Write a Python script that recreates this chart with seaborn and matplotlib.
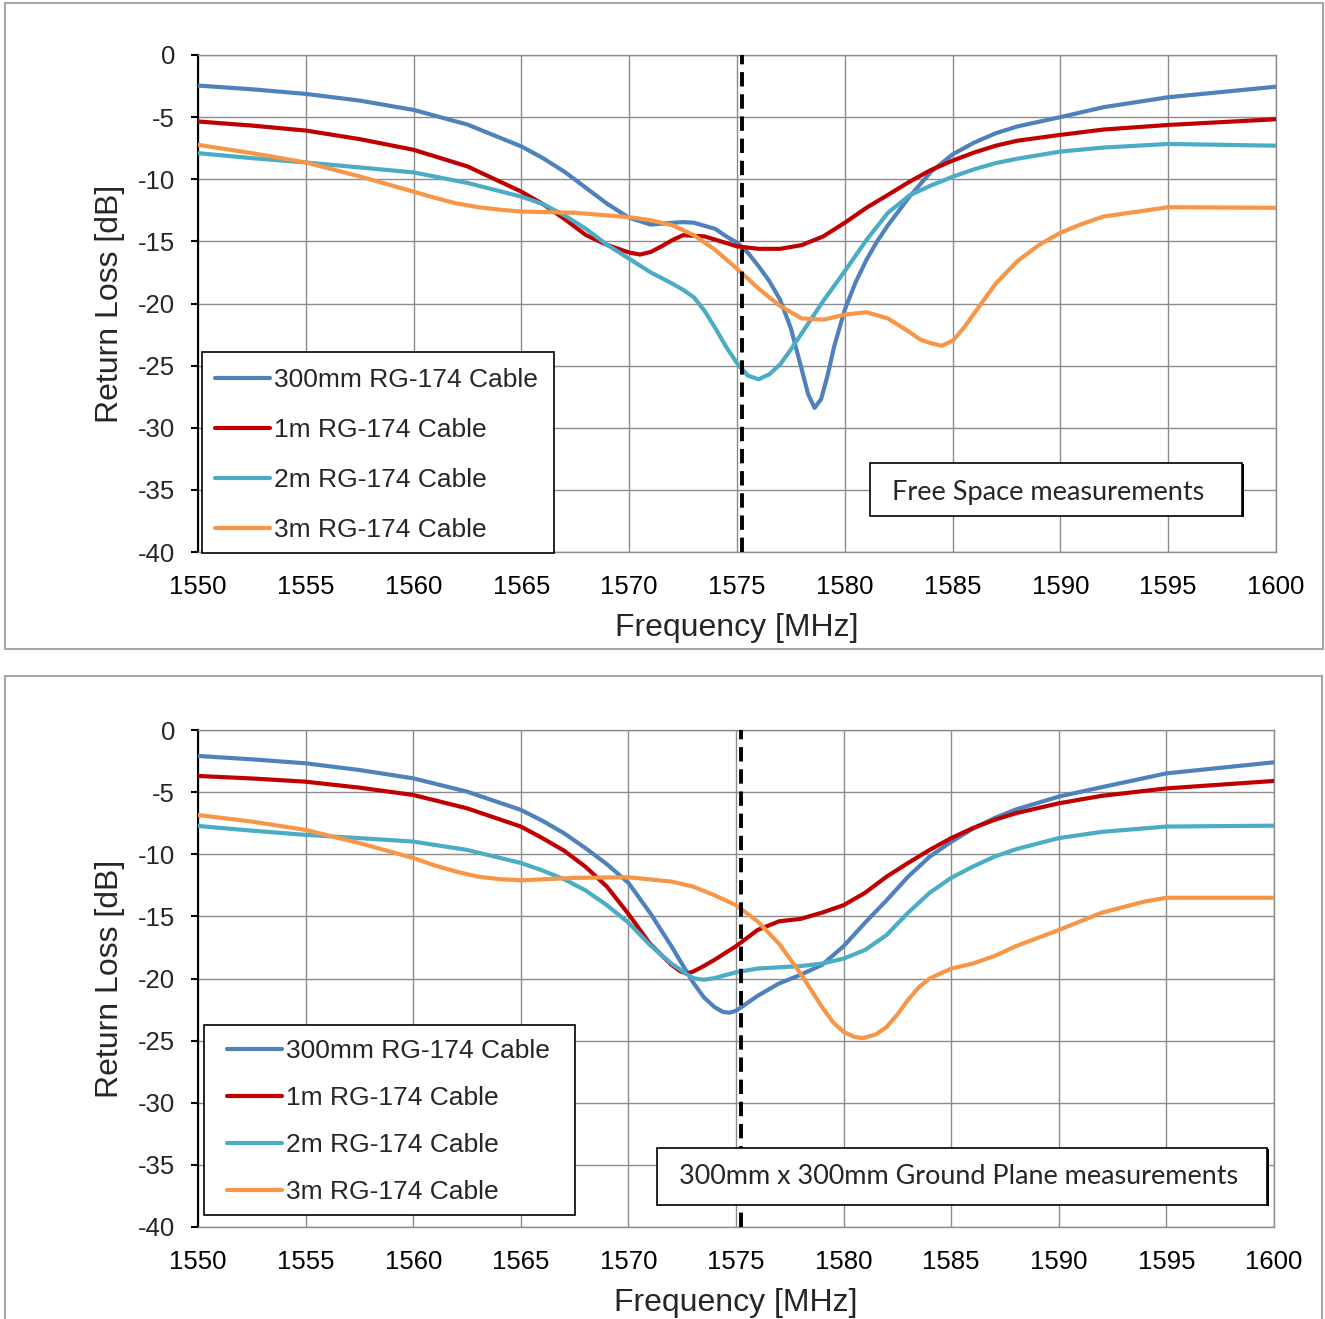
import numpy as np
import pandas as pd
import matplotlib
matplotlib.use("Agg")
import matplotlib.pyplot as plt
from matplotlib.patches import Rectangle
import seaborn as sns

# ---------------------------------------------------------------- data
cables = ["300mm RG-174 Cable", "1m RG-174 Cable", "2m RG-174 Cable", "3m RG-174 Cable"]
colors = ["#4F81BD", "#C00000", "#4BACC6", "#F79646"]

# Free space measurements
fs_300mm_f = [1550, 1552.5, 1555, 1557.5, 1560, 1562.5, 1565, 1566, 1567, 1568, 1569, 1570, 1571,
              1572, 1572.5, 1573, 1574, 1574.5, 1575, 1575.5, 1576, 1576.5, 1577, 1577.5, 1578,
              1578.3, 1578.6, 1578.9, 1579.2, 1579.5, 1580, 1580.5, 1581, 1581.5, 1582, 1583,
              1584, 1585, 1586, 1587, 1588, 1590, 1592, 1595, 1600]
fs_300mm_rl = [-2.46, -2.76, -3.13, -3.67, -4.42, -5.6, -7.36, -8.3, -9.4, -10.7, -12.0, -13.1, -13.65,
               -13.5, -13.45, -13.5, -14.0, -14.6, -15.1, -15.9, -17.0, -18.2, -19.7, -22.0, -25.3,
               -27.3, -28.4, -27.7, -25.8, -23.5, -20.5, -18.3, -16.5, -15.0, -13.7, -11.4,
               -9.4, -8.0, -7.05, -6.3, -5.75, -5.0, -4.2, -3.4, -2.55]

fs_1m_f = [1550, 1552.5, 1555, 1557.5, 1560, 1562.5, 1565, 1566, 1567, 1568, 1569, 1570, 1570.5,
           1571, 1571.5, 1572, 1572.5, 1573.5, 1575, 1576, 1577, 1578, 1579, 1580, 1581, 1582,
           1583, 1584, 1585, 1586, 1587, 1588, 1590, 1592, 1595, 1600]
fs_1m_rl = [-5.35, -5.68, -6.08, -6.77, -7.63, -8.97, -11.0, -12.0, -13.2, -14.5, -15.3, -15.9, -16.06,
            -15.85, -15.4, -14.9, -14.5, -14.6, -15.4, -15.6, -15.6, -15.3, -14.6, -13.5, -12.3, -11.26,
            -10.2, -9.25, -8.5, -7.85, -7.3, -6.9, -6.43, -6.0, -5.63, -5.17]

fs_2m_f = [1550, 1552.5, 1555, 1557.5, 1560, 1562.5, 1565, 1566, 1567, 1568, 1569, 1570, 1571,
           1572, 1572.5, 1573, 1573.5, 1574, 1574.5, 1575, 1575.5, 1576, 1576.5, 1577, 1577.5,
           1578, 1579, 1580, 1581, 1582, 1583, 1584, 1585, 1586, 1587, 1588, 1590, 1592, 1595, 1600]
fs_2m_rl = [-7.9, -8.3, -8.65, -9.05, -9.45, -10.3, -11.4, -12.0, -12.9, -14.0, -15.3, -16.4, -17.5,
            -18.4, -18.9, -19.5, -20.6, -22.0, -23.5, -24.8, -25.8, -26.1, -25.7, -24.9, -23.7,
            -22.4, -19.8, -17.4, -14.9, -12.7, -11.3, -10.5, -9.8, -9.2, -8.7, -8.35, -7.77, -7.45,
            -7.16, -7.3]

fs_3m_f = [1550, 1552.5, 1555, 1557.5, 1560, 1561, 1562, 1563, 1564, 1565, 1567.5, 1570, 1571,
           1572, 1573, 1574, 1575, 1576, 1577, 1578, 1579, 1580, 1581, 1582, 1583, 1583.5, 1584,
           1584.5, 1585, 1585.5, 1586, 1586.5, 1587, 1588, 1589, 1590, 1591, 1592, 1595, 1600]
fs_3m_rl = [-7.23, -7.9, -8.65, -9.77, -11.0, -11.5, -11.95, -12.25, -12.45, -12.6, -12.7, -13.05, -13.3,
            -13.7, -14.5, -15.7, -17.2, -18.8, -20.2, -21.2, -21.3, -20.9, -20.7, -21.2, -22.3, -22.9,
            -23.2, -23.4, -23.0, -22.0, -20.8, -19.6, -18.4, -16.6, -15.3, -14.3, -13.6, -13.0, -12.25,
            -12.3]

# Ground plane measurements
gp_300mm_f = [1550, 1552.5, 1555, 1557.5, 1560, 1562.5, 1565, 1566, 1567, 1568, 1569, 1570, 1571,
              1572, 1573, 1573.5, 1574, 1574.4, 1574.7, 1575, 1575.5, 1576, 1577, 1578, 1579,
              1580, 1581, 1582, 1583, 1584, 1585, 1586, 1587, 1588, 1590, 1592, 1595, 1600]
gp_300mm_rl = [-2.09, -2.36, -2.68, -3.22, -3.89, -4.96, -6.43, -7.3, -8.3, -9.5, -10.8, -12.3, -14.7,
               -17.4, -20.3, -21.5, -22.3, -22.7, -22.75, -22.6, -22.0, -21.4, -20.4, -19.7, -18.9,
               -17.4, -15.5, -13.7, -11.8, -10.2, -9.0, -7.95, -7.1, -6.4, -5.36, -4.6, -3.49, -2.6]

gp_1m_f = [1550, 1552.5, 1555, 1557.5, 1560, 1562.5, 1565, 1566, 1567, 1568, 1569, 1570, 1571,
           1572, 1572.4, 1572.7, 1573, 1573.5, 1574, 1575, 1576, 1577, 1578, 1579, 1580, 1581,
           1582, 1583, 1584, 1585, 1586, 1587, 1588, 1590, 1592, 1595, 1600]
gp_1m_rl = [-3.7, -3.9, -4.16, -4.64, -5.23, -6.3, -7.77, -8.7, -9.7, -11.0, -12.6, -14.8, -17.2,
            -18.9, -19.4, -19.6, -19.45, -19.0, -18.5, -17.4, -16.1, -15.4, -15.2, -14.7, -14.1, -13.1,
            -11.8, -10.7, -9.65, -8.7, -7.9, -7.24, -6.7, -5.9, -5.3, -4.7, -4.1]

gp_2m_f = [1550, 1552.5, 1555, 1557.5, 1560, 1562.5, 1565, 1566, 1567, 1568, 1569, 1570, 1571,
           1572, 1573, 1573.5, 1574, 1575, 1576, 1577, 1578, 1579, 1580, 1581, 1582, 1583, 1584,
           1585, 1586, 1587, 1588, 1590, 1592, 1595, 1600]
gp_2m_rl = [-7.72, -8.1, -8.44, -8.7, -8.98, -9.65, -10.7, -11.3, -12.0, -12.9, -14.1, -15.5, -17.3,
            -18.8, -19.97, -20.1, -19.97, -19.5, -19.2, -19.1, -19.0, -18.8, -18.4, -17.7, -16.5, -14.7,
            -13.1, -11.9, -11.0, -10.2, -9.6, -8.7, -8.2, -7.77, -7.7]

gp_3m_f = [1550, 1552.5, 1555, 1557.5, 1560, 1561, 1562, 1563, 1564, 1565, 1567.5, 1570, 1572,
           1573, 1574, 1575, 1576, 1577, 1578, 1579, 1579.5, 1580, 1580.5, 1580.9, 1581.5, 1582,
           1582.5, 1583, 1583.5, 1584, 1585, 1586, 1587, 1588, 1590, 1592, 1594, 1595, 1597, 1600]
gp_3m_rl = [-6.84, -7.37, -8.04, -9.1, -10.3, -10.9, -11.4, -11.8, -12.0, -12.1, -11.9, -11.85, -12.2,
            -12.6, -13.3, -14.1, -15.4, -17.2, -19.6, -22.3, -23.5, -24.3, -24.7, -24.8, -24.5, -23.9,
            -22.9, -21.7, -20.7, -20.0, -19.2, -18.8, -18.2, -17.4, -16.1, -14.7, -13.8, -13.5, -13.5,
            -13.5]

gps_l1_marker = 1575.25
x_ticks = [1550, 1555, 1560, 1565, 1570, 1575, 1580, 1585, 1590, 1595, 1600]
y_ticks = [0, -5, -10, -15, -20, -25, -30, -35, -40]
panel_notes = ["Free Space measurements", "300mm x 300mm Ground Plane measurements"]


def long_frame(series):
    rows = []
    for name, f, rl in series:
        rows += [{"freq": a, "rl": b, "cable": name} for a, b in zip(f, rl)]
    return pd.DataFrame(rows)


free_space = long_frame([(cables[0], fs_300mm_f, fs_300mm_rl), (cables[1], fs_1m_f, fs_1m_rl),
                         (cables[2], fs_2m_f, fs_2m_rl), (cables[3], fs_3m_f, fs_3m_rl)])
ground_plane = long_frame([(cables[0], gp_300mm_f, gp_300mm_rl), (cables[1], gp_1m_f, gp_1m_rl),
                           (cables[2], gp_2m_f, gp_2m_rl), (cables[3], gp_3m_f, gp_3m_rl)])

# ---------------------------------------------------------------- style
sns.set_style("white")
plt.rcParams["font.family"] = ["Liberation Sans", "DejaVu Sans"]
plt.rcParams["lines.solid_capstyle"] = "round"
plt.rcParams["lines.solid_joinstyle"] = "round"

W, H = 1325, 1319
fig = plt.figure(figsize=(W / 100, H / 100), dpi=100)
fig.patch.set_facecolor("white")

GRID = "#8c8c8c"


def px_box(x0, y0, x1, y1):
    """Figure-fraction rectangle from pixel corners (top-left origin)."""
    return [x0 / W, 1 - y1 / H, (x1 - x0) / W, (y1 - y0) / H]


# panel frames
for (x0, y0, x1, y1) in [(5, 3, 1323, 649), (5, 676, 1322, 1330)]:
    b = px_box(x0, y0, x1, y1)
    fig.add_artist(Rectangle((b[0], b[1]), b[2], b[3], transform=fig.transFigure,
                             fill=False, ec="#a6a6a6", lw=1.5, zorder=0))

ax_top = fig.add_axes(px_box(198, 55, 1276, 552))
ax_bot = fig.add_axes(px_box(198, 730, 1274, 1227))

layouts = [
    dict(ax=ax_top, data=free_space,
         leg_anchor=(0.0158, 0.3697), leg_space=0.98,
         leg_frame=(0.0037, -0.002, 0.3302, 0.4024),
         note_frame=(0.6234, 0.0724, 0.9685, 0.179), note_xy=(0.7885, 0.1207), note_w=314,
         note=panel_notes[0]),
    dict(ax=ax_bot, data=ground_plane,
         leg_anchor=(0.0270, 0.3777), leg_space=0.865,
         leg_frame=(0.0056, 0.0241, 0.3504, 0.4064),
         note_frame=(0.4266, 0.0443, 0.9935, 0.159), note_xy=(0.7073, 0.1026), note_w=562,
         note=panel_notes[1]),
]

for L in layouts:
    ax = L["ax"]
    sns.lineplot(data=L["data"], x="freq", y="rl", hue="cable", hue_order=cables,
                 palette=colors, estimator=None, sort=False, linewidth=3.0,
                 ax=ax, legend=True, zorder=3)
    handles, labels = ax.get_legend_handles_labels()
    ax.get_legend().remove()

    ax.axvline(gps_l1_marker, color="black", lw=2.8, ls=(0, (3.7, 2.0)),
               dash_capstyle="butt", zorder=4)

    ax.set_xlim(1550, 1600)
    ax.set_ylim(-40, 0)
    ax.set_xticks(x_ticks)
    ax.set_yticks(y_ticks)
    ax.set_xticklabels([str(t) for t in x_ticks])
    ax.set_yticklabels([str(t) for t in y_ticks])
    ax.grid(True, color=GRID, lw=1.0)
    ax.set_axisbelow(True)
    for side in ["top", "right", "bottom"]:
        ax.spines[side].set_color(GRID)
        ax.spines[side].set_linewidth(1.0)
    ax.spines["left"].set_color("black")
    ax.spines["left"].set_linewidth(1.5)
    ax.tick_params(axis="x", length=0, pad=16.5, labelsize=18.5, colors="black")
    ax.tick_params(axis="y", length=5, width=1.5, pad=11.5, labelsize=18.5,
                   direction="out", color="black", left=True)

    ax.set_xlabel("Frequency [MHz]", fontsize=23)
    ax.set_ylabel("Return Loss [dB]", fontsize=23)
    ax.xaxis.set_label_coords(0.4995, -0.153)
    ax.xaxis.label.set_va("center")
    ax.yaxis.set_label_coords(-0.0816, 0.5)
    ax.yaxis.label.set_va("center")

    # legend with its own frame
    fx0, fy0, fx1, fy1 = L["leg_frame"]
    ax.add_patch(Rectangle((fx0, fy0), fx1 - fx0, fy1 - fy0, transform=ax.transAxes,
                           fc="white", ec="black", lw=1.2, zorder=5, clip_on=False))
    for h in handles:
        h.set_linewidth(3.0)
    leg = ax.legend(handles, labels, loc="upper left", bbox_to_anchor=L["leg_anchor"],
                    bbox_transform=ax.transAxes, frameon=False, borderpad=0,
                    borderaxespad=0, fontsize=19, handlelength=2.08, handletextpad=0.15,
                    labelspacing=L["leg_space"])
    leg.set_zorder(6)

    # note box
    nx0, ny0, nx1, ny1 = L["note_frame"]
    ax.add_patch(Rectangle((nx0, ny0), nx1 - nx0, ny1 - ny0, transform=ax.transAxes,
                           fc="white", ec="black", lw=1.2, zorder=5))
    ax.add_patch(Rectangle((nx1, ny0 - 0.002), 0.0015, ny1 - ny0, transform=ax.transAxes,
                           fc="black", ec="none", zorder=5))
    t = ax.text(L["note_xy"][0], L["note_xy"][1], L["note"], transform=ax.transAxes,
                ha="center", va="center", fontsize=20, family=["Lato", "DejaVu Sans"], zorder=6)
    L["note_text"] = t

# size the note text to its box
fig.canvas.draw()
for L in layouts:
    t = L["note_text"]
    w = t.get_window_extent().width
    t.set_fontsize(20 * L["note_w"] / w)

fig.savefig("out.png", dpi=100, facecolor="white")
